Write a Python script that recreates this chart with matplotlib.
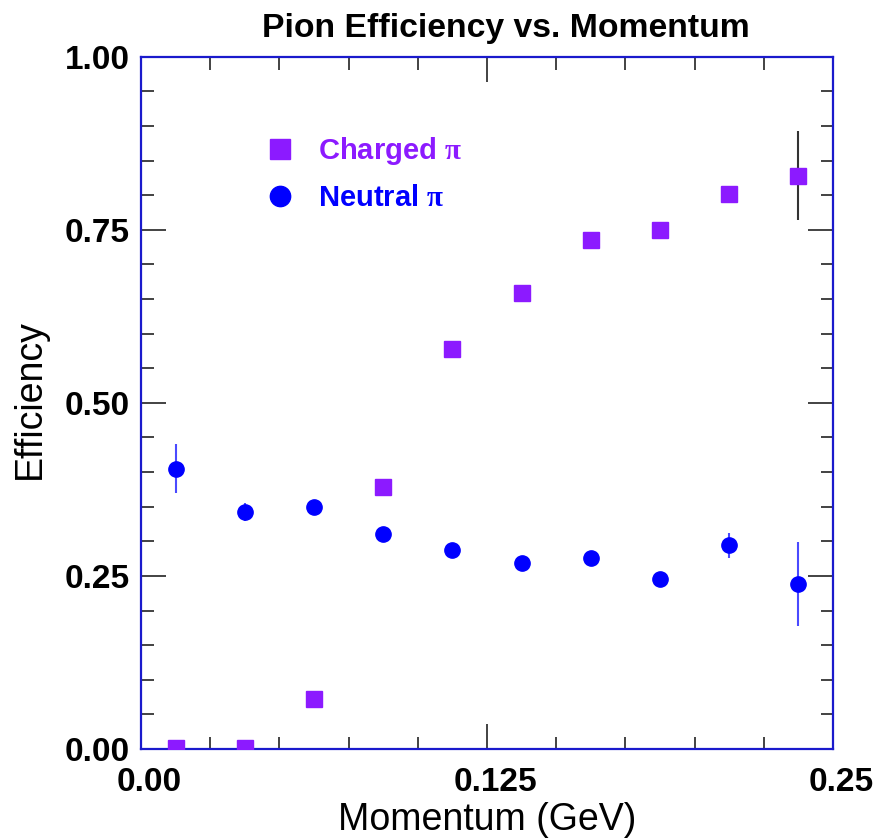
import numpy as np
import matplotlib
matplotlib.use('Agg')
import matplotlib.pyplot as plt
import matplotlib.transforms as mtransforms
from matplotlib.ticker import MultipleLocator

plt.rcParams['font.family'] = ['Liberation Sans', 'DejaVu Sans']
plt.rcParams['mathtext.fontset'] = 'custom'
plt.rcParams['mathtext.rm'] = 'Liberation Serif:bold'

# momentum bin centres (GeV)
momentum = [0.0125, 0.0375, 0.0625, 0.0875, 0.1125, 0.1375, 0.1625, 0.1875, 0.2125, 0.2375]

charged_eff = [0.002, 0.001, 0.072, 0.379, 0.578, 0.659, 0.735, 0.750, 0.801, 0.828]
charged_err = [0.008, 0.008, 0.010, 0.010, 0.010, 0.010, 0.008, 0.008, 0.010, 0.064]

neutral_eff = [0.405, 0.342, 0.349, 0.310, 0.288, 0.269, 0.276, 0.245, 0.294, 0.238]
neutral_err = [0.035, 0.013, 0.005, 0.005, 0.005, 0.005, 0.005, 0.005, 0.018, 0.061]

xticks = [0, 0.125, 0.25]
xtick_labels = ['0.00', '0.125', '0.25']
yticks = [0, 0.25, 0.5, 0.75, 1.0]
ytick_labels = ['0.00', '0.25', '0.50', '0.75', '1.00']

purple = '#8c1aff'
blue = '#0000ff'
spine_blue = '#1a1acc'

fig = plt.figure(figsize=(8.77, 8.39), dpi=100)
ax = fig.add_axes([0.1608, 0.1073, 0.789, 0.8251])

ax.errorbar(momentum, charged_eff, yerr=charged_err, fmt='none', ecolor='#333333',
            elinewidth=1.5, capsize=0, zorder=2)
ax.plot(momentum, charged_eff, 's', color=purple, markersize=11, linestyle='none',
        zorder=3, label=r'Charged $\mathrm{\pi}$')

ax.errorbar(momentum, neutral_eff, yerr=neutral_err, fmt='none', ecolor='#4a4aff',
            elinewidth=1.5, capsize=0, zorder=2)
ax.plot(momentum, neutral_eff, 'o', color=blue, markersize=11, linestyle='none',
        zorder=3, label=r'Neutral $\mathrm{\pi}$')

ax.set_xlim(0, 0.25)
ax.set_ylim(0, 1.0)
ax.set_xticks(xticks)
ax.set_xticklabels(xtick_labels)
ax.set_yticks(yticks)
ax.set_yticklabels(ytick_labels)
ax.xaxis.set_minor_locator(MultipleLocator(0.025))
ax.yaxis.set_minor_locator(MultipleLocator(0.05))

ax.tick_params(which='both', direction='in', top=True, right=True, color='#222222')
ax.tick_params(which='major', length=18, width=1.2, labelsize=24)
ax.tick_params(axis='x', which='major', pad=13)
ax.tick_params(axis='y', which='major', pad=8)
ax.tick_params(which='minor', length=9, width=1.2)
shift = mtransforms.ScaledTranslation(8 / 100, 0, fig.dpi_scale_trans)
for lab in ax.get_xticklabels():
    lab.set_fontweight('bold')
    lab.set_transform(lab.get_transform() + shift)
for lab in ax.get_yticklabels():
    lab.set_fontweight('bold')

for sp in ax.spines.values():
    sp.set_color(spine_blue)
    sp.set_linewidth(1.6)

ax.set_xlabel('Momentum (GeV)', fontsize=27, labelpad=2.5)
ax.set_ylabel('Efficiency', fontsize=27, labelpad=12)
ax.yaxis.label.set_y(0.506)
ax.set_title('Pion Efficiency vs. Momentum', fontsize=24.3, fontweight='bold',
             pad=14, x=0.527)

leg = ax.legend(loc='upper left', bbox_to_anchor=(0.18, 0.887), frameon=False,
                prop={'size': 21, 'weight': 'bold'}, handletextpad=0.8,
                labelspacing=0.6, handlelength=1.0, markerscale=1.33,
                borderpad=0, borderaxespad=0)
for txt, col in zip(leg.get_texts(), [purple, blue]):
    txt.set_color(col)

fig.savefig('out.png', dpi=100)
